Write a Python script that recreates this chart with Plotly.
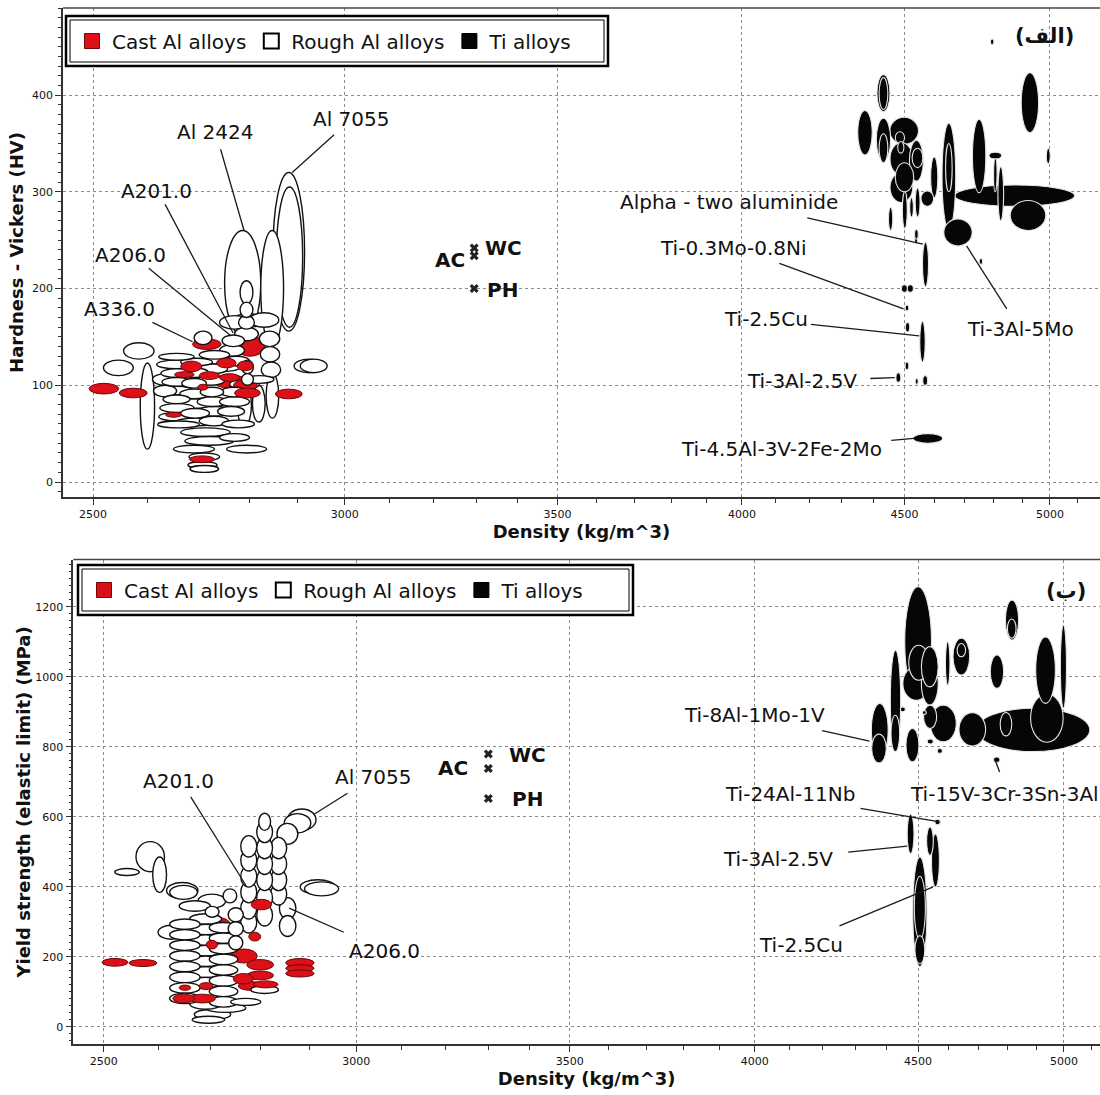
import math
import plotly.graph_objects as go

# ------------------------------------------------------------------
# DATA  (density ranges in kg/m^3, property ranges in HV or MPa)
# ------------------------------------------------------------------
density_ticks = [2500, 3000, 3500, 4000, 4500, 5000]
hv_ticks = [0, 100, 200, 300, 400]
ys_ticks = [0, 200, 400, 600, 800, 1000, 1200]
legend_names = ["Cast Al alloys", "Rough Al alloys", "Ti alloys"]

# ---- Panel (الف): Hardness - Vickers ----
top_rough_density = [
    (2556, 2613), (2519, 2574), (2587, 2614), (2892, 2955), (2905, 2962),
    (2622, 2690), (2618, 2694), (2626, 2686), (2628, 2684), (2626, 2688),
    (2630, 2682), (2624, 2690), (2622, 2694), (2620, 2700),
    (2664, 2726), (2662, 2718), (2666, 2714), (2662, 2718), (2658, 2722),
    (2664, 2720), (2654, 2736),
    (2698, 2756), (2694, 2750), (2702, 2748), (2696, 2756), (2692, 2766),
    (2700, 2758),
    (2664, 2761), (2672, 2768), (2754, 2835), (2650, 2730), (2680, 2740),
    (2678, 2735), (2682, 2738), (2740, 2800), (2745, 2810),
    (2781, 2807), (2781, 2807), (2778, 2810), (2770, 2818), (2784, 2808),
    (2784, 2808),
    (2775, 2804), (2806, 2832), (2834, 2860),
    (2740, 2800), (2765, 2830), (2800, 2860), (2820, 2862), (2822, 2862),
    (2824, 2864), (2790, 2850), (2740, 2790), (2700, 2760), (2690, 2725),
    (2745, 2790), (2748, 2800),
    (2750, 2823), (2823, 2870), (2848, 2914), (2855, 2910),
    (2742, 2795), (2740, 2800), (2736, 2790), (2610, 2660), (2612, 2656),
    (2760, 2820), (2700, 2780),
]
top_rough_hv = [
    (127, 144), (110, 126), (34, 123), (113, 127), (113, 127),
    (126, 133), (117, 126), (108, 117), (99, 108), (90, 99),
    (81, 90), (72, 81), (63, 72), (56, 63),
    (120, 128), (108, 118), (97, 107), (86, 96), (76, 86),
    (66, 76), (58, 66),
    (112, 122), (100, 110), (88, 98), (78, 88), (68, 78),
    (58, 68),
    (47, 56), (38, 47), (30, 38), (30, 38), (22, 30),
    (14, 21), (10, 17), (42, 50), (56, 64),
    (184, 208), (170, 186), (158, 172), (146, 160), (112, 126),
    (100, 112),
    (58, 100), (62, 100), (66, 112),
    (158, 172), (160, 174), (160, 175), (140, 156), (124, 140),
    (108, 124), (102, 110), (130, 142), (127, 136), (142, 156),
    (140, 152), (120, 130),
    (151, 260), (140, 260), (156, 320), (160, 305),
    (88, 98), (78, 88), (68, 78), (100, 112), (88, 100),
    (96, 106), (114, 122),
]
top_cast_density = [
    (2493, 2547), (2548, 2600), (2687, 2743), (2772, 2831), (2853, 2909),
    (2664, 2705), (2652, 2690), (2734, 2773), (2775, 2808), (2728, 2793),
    (2768, 2816), (2770, 2822), (2697, 2717), (2635, 2666), (2681, 2730),
    (2740, 2780), (2700, 2740),
]
top_cast_hv = [
    (91, 102), (87, 97), (137, 148), (130, 151), (86, 96),
    (114, 125), (108, 114), (118, 128), (115, 125), (97, 111),
    (94, 106), (87, 97), (95, 101), (67, 72), (20, 27),
    (104, 112), (106, 114),
]
top_ti_density = [
    (4411, 4453), (4418, 4446), (4350, 4396), (4409, 4455), (4418, 4446),
    (4452, 4546), (4453, 4527), (4516, 4562), (4453, 4527), (4554, 4596),
    (4586, 4610), (4624, 4670), (4636, 4658), (4727, 4773), (4784, 4828),
    (4800, 4812), (4815, 4835), (4667, 5090), (4858, 4985), (4897, 4959),
    (4987, 5001), (4630, 4726), (4448, 4462), (4493, 4509), (4517, 4529),
    (4535, 4551), (4533, 4545), (4559, 4579), (4533, 4543), (4490, 4510),
    (4509, 4529), (4502, 4514), (4503, 4517), (4550, 4568), (4502, 4514),
    (4472, 4488), (4535, 4545), (4560, 4576), (4528, 4626), (4750, 4762),
    (4789, 4801), (4470, 4500), (4478, 4498), (4470, 4530), (4525, 4560),
]
top_ti_hv = [
    (383, 421), (385, 418), (338, 384), (332, 376), (330, 360),
    (349, 377), (317, 351), (311, 353), (289, 320), (285, 301),
    (294, 336), (261, 371), (300, 350), (299, 375), (334, 341),
    (300, 336), (270, 326), (285, 307), (260, 291), (361, 423),
    (329, 345), (244, 272), (260, 284), (262, 300), (274, 294),
    (274, 304), (251, 261), (202, 248), (246, 260), (196, 204),
    (196, 204), (177, 183), (155, 165), (124, 166), (116, 124),
    (103, 113), (101, 107), (100, 110), (40, 50), (225, 231),
    (452, 458), (350, 362), (340, 352), (300, 330), (325, 345),
]
top_ref_density = [3295, 3295, 3295]
top_ref_hv = [242, 234, 200]

# ---- Panel (ب): Yield strength ----
bot_rough_density = [
    (2559, 2612), (2520, 2565), (2590, 2616), (2616, 2676), (2622, 2675),
    (2676, 2730), (2725, 2752), (2690, 2717),
    (2622, 2680), (2622, 2680), (2622, 2680), (2622, 2680), (2622, 2680),
    (2622, 2680), (2622, 2680), (2622, 2680),
    (2660, 2722), (2660, 2722), (2660, 2722), (2660, 2722), (2660, 2722),
    (2660, 2722), (2660, 2722), (2660, 2722), (2660, 2722),
    (2698, 2754), (2698, 2754), (2698, 2754), (2698, 2754), (2698, 2754),
    (2698, 2754), (2698, 2754), (2698, 2754),
    (2669, 2740), (2690, 2770), (2740, 2800), (2780, 2836), (2665, 2728),
    (2760, 2792), (2760, 2792), (2760, 2792), (2760, 2792), (2760, 2792),
    (2760, 2792),
    (2792, 2824), (2792, 2824), (2792, 2824), (2792, 2824), (2792, 2824),
    (2792, 2824), (2796, 2820),
    (2820, 2853), (2820, 2853), (2820, 2853), (2820, 2853),
    (2838, 2872), (2838, 2872),
    (2855, 2914), (2848, 2903), (2833, 2876), (2881, 2955), (2890, 2962),
    (2735, 2765), (2735, 2765), (2736, 2764), (2640, 2700), (2600, 2650),
]
bot_rough_ys = [
    (443, 529), (432, 452), (384, 485), (366, 412), (364, 404),
    (339, 379), (354, 394), (313, 344),
    (278, 308), (248, 278), (218, 248), (187, 218), (157, 187),
    (126, 157), (96, 126), (66, 96),
    (293, 323), (263, 293), (233, 263), (202, 233), (172, 202),
    (141, 172), (111, 141), (81, 111), (50, 81),
    (268, 298), (238, 268), (208, 238), (177, 208), (147, 177),
    (116, 147), (86, 116), (56, 86),
    (20, 50), (41, 66), (61, 81), (95, 117), (10, 30),
    (268, 329), (308, 369), (354, 415), (399, 460), (445, 506),
    (485, 546),
    (288, 349), (338, 399), (389, 450), (435, 496), (480, 541),
    (526, 587), (561, 610),
    (348, 409), (389, 450), (435, 496), (480, 541),
    (308, 369), (258, 318),
    (561, 622), (554, 609), (521, 581), (379, 420), (374, 414),
    (300, 340), (260, 300), (220, 260), (330, 360), (250, 290),
]
bot_cast_density = [
    (2497, 2544), (2546, 2598), (2683, 2738), (2781, 2822), (2776, 2800),
    (2692, 2714), (2740, 2793), (2772, 2826), (2772, 2826), (2745, 2785),
    (2755, 2805), (2785, 2835), (2851, 2910), (2851, 2910), (2851, 2910),
    (2628, 2669), (2660, 2710), (2640, 2662), (2678, 2705),
]
bot_cast_ys = [
    (173, 195), (172, 192), (278, 313), (334, 364), (245, 270),
    (222, 247), (182, 222), (162, 192), (134, 159), (122, 152),
    (104, 129), (111, 131), (170, 195), (157, 177), (142, 162),
    (68, 93), (68, 93), (104, 119), (106, 126),
]
bot_ti_density = [
    (4457, 4544), (4470, 4535), (4511, 4566), (4511, 4566), (4451, 4538),
    (4411, 4444), (4413, 4441), (4351, 4404), (4352, 4398), (4461, 4503),
    (4518, 4561), (4540, 4626), (4590, 4605), (4615, 4671), (4629, 4657),
    (4635, 4725), (4694, 5094), (4741, 4787), (4793, 4839), (4800, 4830),
    (4899, 4969), (4881, 4997), (4987, 5009), (4775, 4815), (4443, 4459),
    (4530, 4550), (4563, 4580), (4752, 4774), (4514, 4527),
    (4465, 4487), (4528, 4550), (4544, 4570), (4483, 4529), (4488, 4524),
    (4490, 4522), (4555, 4573),
]
bot_ti_ys = [
    (943, 1257), (990, 1090), (971, 1086), (919, 1043), (933, 1029),
    (790, 1076), (786, 890), (771, 924), (754, 836), (757, 852),
    (852, 919), (814, 919), (976, 1100), (1005, 1110), (1057, 1095),
    (802, 897), (786, 910), (967, 1062), (1105, 1219), (1110, 1165),
    (924, 1114), (813, 951), (910, 1148), (831, 898), (900, 914),
    (808, 822), (781, 795), (755, 771), (892, 903),
    (495, 607), (490, 571), (399, 551), (172, 485), (250, 430),
    (180, 260), (577, 593),
]
bot_ref_density = [3300, 3300, 3300]
bot_ref_ys = [779, 738, 652]

# ---- labels (text, density, value) and leader lines ----
top_labels = ["Al 2424", "Al 7055", "A201.0", "A206.0", "A336.0",
              "Alpha - two aluminide", "Ti-0.3Mo-0.8Ni", "Ti-2.5Cu",
              "Ti-3Al-5Mo", "Ti-3Al-2.5V", "Ti-4.5Al-3V-2Fe-2Mo"]
top_label_density = [2731, 3015, 2617, 2568, 2548, 3962, 3977, 4069, 4895, 4178, 4115]
top_label_hv = [362, 375, 301, 235, 179, 289, 242, 169, 158, 104, 34]
top_leader_from = [(2742, 344), (2977, 359), (2634, 287), (2603, 221), (2610, 165),
                   (4194, 273), (4110, 226), (4205, 163), (4846, 179), (4390, 107), (4457, 43)]
top_leader_to = [(2789, 260), (2888, 320), (2767, 154), (2763, 151), (2687, 145),
                 (4560, 246), (4497, 179), (4548, 151), (4707, 244), (4468, 108), (4531, 45)]
top_ref_labels = ["AC", "WC", "PH"]
top_ref_label_density = [3237, 3366, 3362]
top_ref_label_hv = [230, 242, 199]

bot_labels = ["A201.0", "Al 7055", "A206.0", "Ti-8Al-1Mo-1V", "Ti-24Al-11Nb",
              "Ti-3Al-2.5V", "Ti-2.5Cu"]
bot_label_density = [2639, 3038, 3062, 3999, 4104, 4068, 4135]
bot_label_ys = [703, 713, 217, 890, 664, 480, 233]
bot_leader_from = [(2662, 657), (2981, 667), (2973, 270), (4199, 846), (4317, 624),
                   (4279, 499), (4252, 288), (4773, 728)]
bot_leader_to = [(2772, 400), (2910, 607), (2858, 339), (4345, 816), (4566, 586),
                 (4465, 516), (4548, 399), (4757, 763)]
bot_extra_label = "Ti-15V-3Cr-3Sn-3Al"
bot_extra_label_pos = (4468, 664)
bot_ref_labels = ["AC", "WC", "PH"]
bot_ref_label_density = [3217, 3394, 3394]
bot_ref_label_ys = [738, 776, 652]

# ------------------------------------------------------------------
# STYLE
# ------------------------------------------------------------------
FONT = "DejaVu Sans"
CAST = dict(fill="#dc1018", line="#6e0808", width=1.0)
ROUGH = dict(fill="#ffffff", line="#111111", width=1.4)
TI = dict(fill="#060606", line="#e6e6e6", width=1.1)
W, H = 1100, 1095

fig = go.Figure()


def add_ellipses(xref, yref, groups, yspan):
    items = []
    for dens, vals, st in groups:
        for (d0, d1), (v0, v1) in zip(dens, vals):
            area = math.log10(d1 / d0) * (v1 - v0) / yspan
            items.append((area, d0, d1, v0, v1, st))
    items.sort(key=lambda t: -t[0])
    for _, d0, d1, v0, v1, st in items:
        fig.add_shape(type="circle", xref=xref, yref=yref, x0=d0, x1=d1, y0=v0, y1=v1,
                      fillcolor=st["fill"], line=dict(color=st["line"], width=st["width"]))


add_ellipses("x", "y", [(top_rough_density, top_rough_hv, ROUGH),
                        (top_cast_density, top_cast_hv, CAST)], 500)
add_ellipses("x", "y", [(top_ti_density, top_ti_hv, TI)], 500)
add_ellipses("x2", "y2", [(bot_rough_density, bot_rough_ys, ROUGH),
                          (bot_cast_density, bot_cast_ys, CAST)], 1380)
add_ellipses("x2", "y2", [(bot_ti_density, bot_ti_ys, TI)], 1380)

# leader lines
for xr, yr, a, b in [("x", "y", top_leader_from, top_leader_to),
                     ("x2", "y2", bot_leader_from, bot_leader_to)]:
    for (x0, y0), (x1, y1) in zip(a, b):
        fig.add_shape(type="line", xref=xr, yref=yr, x0=x0, y0=y0, x1=x1, y1=y1,
                      line=dict(color="#1a1a1a", width=1.3))

# reference points (AC / WC / PH)
fig.add_trace(go.Scatter(x=top_ref_density, y=top_ref_hv, mode="markers", xaxis="x", yaxis="y",
                         marker=dict(symbol="x", size=8, color="#222"), showlegend=False,
                         hoverinfo="skip"))
fig.add_trace(go.Scatter(x=bot_ref_density, y=bot_ref_ys, mode="markers", xaxis="x2", yaxis="y2",
                         marker=dict(symbol="x", size=8, color="#222"), showlegend=False,
                         hoverinfo="skip"))

# legend entries
leg_styles = [CAST, ROUGH, TI]
for lg in ["legend", "legend2"]:
    for name, st in zip(legend_names, leg_styles):
        fig.add_trace(go.Scatter(x=[None], y=[None], mode="markers", name=name, legend=lg,
                                 marker=dict(symbol="square", size=15, color=st["fill"],
                                             line=dict(color="#000" if st is not CAST else "#6e0808",
                                                       width=2 if st is ROUGH else 1))))

ann = []


def txt(x, y, s, xref, yref, size=20, bold=False, xanchor="center"):
    ann.append(dict(x=math.log10(x), y=y, xref=xref, yref=yref, text=("<b>%s</b>" % s) if bold else s,
                    showarrow=False, xanchor=xanchor, yanchor="middle",
                    font=dict(family=FONT, size=size, color="#111")))


for s, d, v in zip(top_labels, top_label_density, top_label_hv):
    txt(d, v, s, "x", "y")
for s, d, v in zip(top_ref_labels, top_ref_label_density, top_ref_label_hv):
    txt(d, v, s, "x", "y", bold=True)
for s, d, v in zip(bot_labels, bot_label_density, bot_label_ys):
    txt(d, v, s, "x2", "y2")
txt(bot_extra_label_pos[0], bot_extra_label_pos[1], bot_extra_label, "x2", "y2", xanchor="left")
for s, d, v in zip(bot_ref_labels, bot_ref_label_density, bot_ref_label_ys):
    txt(d, v, s, "x2", "y2", bold=True)
txt(4982, 461, "(الف)", "x", "y", size=21, bold=True)
txt(5009, 1244, "(ب)", "x2", "y2", size=21, bold=True)


def px_x(p):
    return p / W


def px_y(p):
    return 1 - p / H


shapes_extra = []
for (l, t, r, b) in [(66, 16, 608, 66), (78, 565, 633, 615)]:
    shapes_extra.append(dict(type="rect", xref="paper", yref="paper", x0=px_x(l), x1=px_x(r),
                             y0=px_y(b), y1=px_y(t), line=dict(color="#000", width=2.5),
                             fillcolor="white", layer="above"))
    shapes_extra.append(dict(type="rect", xref="paper", yref="paper", x0=px_x(l + 4), x1=px_x(r - 4),
                             y0=px_y(b - 4), y1=px_y(t + 4), line=dict(color="#000", width=1),
                             layer="above"))
for xr, yr in [("x domain", "y domain"), ("x2 domain", "y2 domain")]:
    shapes_extra.append(dict(type="line", xref=xr, yref=yr, x0=0, x1=1, y0=1, y1=1,
                             line=dict(color="#444", width=1.5)))
for s in shapes_extra:
    fig.add_shape(**s)

minor_x = [v for v in range(2500, 5200, 100) if v not in density_ticks]
common_x = dict(type="log", tickmode="array", tickvals=density_ticks,
                ticktext=[str(v) for v in density_ticks], ticks="outside", ticklen=6,
                tickcolor="#333", showline=True, linecolor="#333", linewidth=1.5,
                showgrid=True, gridcolor="#8a8a8a", griddash="dot", gridwidth=1.4,
                zeroline=False, automargin=False,
                tickfont=dict(family=FONT, size=11, color="#111"),
                minor=dict(tickmode="array", tickvals=minor_x, ticks="outside", ticklen=4,
                           tickcolor="#333", showgrid=False),
                title=dict(text="<b>Density (kg/m^3)</b>", font=dict(family=FONT, size=18, color="#111"),
                           standoff=3))
common_y = dict(ticks="outside", ticklen=6, tickcolor="#333", showline=True, linecolor="#333",
                linewidth=1.5, showgrid=True, gridcolor="#8a8a8a", griddash="dot", gridwidth=1.4,
                zeroline=False, automargin=False, tickmode="array",
                tickfont=dict(family=FONT, size=11, color="#111"))

fig.update_layout(
    width=W, height=H, margin=dict(l=0, r=0, t=0, b=0),
    paper_bgcolor="white", plot_bgcolor="white",
    xaxis=dict(common_x, domain=[63 / W, 1], anchor="y",
               range=[3.38850, 3.71471]),
    yaxis=dict(common_y, domain=[1 - 497 / H, 1 - 8 / H], anchor="x", range=[-15.5, 490],
               tickvals=hv_ticks, ticktext=[str(v) for v in hv_ticks],
               minor=dict(dtick=10, tick0=0, ticks="outside", ticklen=3, tickcolor="#333", showgrid=False),
               title=dict(text="<b>Hardness - Vickers (HV)</b>",
                          font=dict(family=FONT, size=18, color="#111"), standoff=4)),
    xaxis2=dict(common_x, domain=[73.3 / W, 1], anchor="y2",
                range=[3.38841, 3.71026]),
    yaxis2=dict(common_y, domain=[1 - 1044.4 / H, 1 - 559.5 / H], anchor="x2", range=[-50.5, 1335],
                tickvals=ys_ticks, ticktext=[str(v) for v in ys_ticks],
                minor=dict(dtick=20, tick0=0, ticks="outside", ticklen=3, tickcolor="#333", showgrid=False),
                title=dict(text="<b>Yield strength (elastic limit) (MPa)</b>",
                           font=dict(family=FONT, size=18, color="#111"), standoff=0)),
    legend=dict(orientation="h", x=px_x(72), y=px_y(41), xanchor="left", yanchor="middle",
                bgcolor="rgba(0,0,0,0)", borderwidth=0,
                font=dict(family=FONT, size=20, color="#111")),
    legend2=dict(orientation="h", x=px_x(84), y=px_y(590), xanchor="left", yanchor="middle",
                 bgcolor="rgba(0,0,0,0)", borderwidth=0,
                 font=dict(family=FONT, size=20, color="#111")),
    annotations=ann,
    showlegend=True,
)

fig.write_html("out.html")
